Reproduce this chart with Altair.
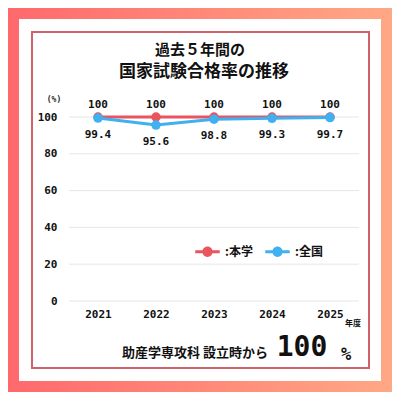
import altair as alt
import pandas as pd

years = ["2021", "2022", "2023", "2024", "2025"]
school = [100, 100, 100, 100, 100]
national = [99.4, 95.6, 98.8, 99.3, 99.7]
series_names = ["本学", "全国"]
series_colors = ["#e9545d", "#3fb0f0"]
y_ticks = [0, 20, 40, 60, 80, 100]
title_line1 = "過去５年間の"
title_line2 = "国家試験合格率の推移"
unit_text = "(%)"
year_unit = "年度"
footer_text = "助産学専攻科 設立時から"
footer_value = "100"
footer_pct = "%"

CJK = "Noto Sans CJK JP"
DIG = "DejaVu Sans Mono"

df = pd.DataFrame({
    "year": years * 2,
    "rate": school + national,
    "series": [series_names[0]] * len(years) + [series_names[1]] * len(years),
})
ticks_df = pd.DataFrame({"rate": y_ticks})
one = pd.DataFrame({"a": [0]})

color_scale = alt.Scale(domain=series_names, range=series_colors)
legend = alt.Legend(
    title=None, orient="none", direction="horizontal",
    legendX=126, legendY=122, padding=0,
    symbolType="M-1,-0.12L1,-0.12L1,0.12L-1,0.12Z M0.42,0A0.42,0.42 0 1,1 -0.42,0A0.42,0.42 0 1,1 0.42,0Z",
    symbolSize=600, symbolStrokeWidth=0, symbolOpacity=1,
    labelFont=CJK, labelFontSize=12, labelFontWeight="bold", labelColor="#111",
    labelExpr="':' + datum.label", labelOffset=5, columnPadding=12,
    zindex=1,
)
color_leg = alt.Color("series:N", scale=color_scale, sort=series_names, legend=legend)

x = alt.X("year:N", scale=alt.Scale(type="point", padding=0.5),
          axis=alt.Axis(title=None, labelAngle=0, ticks=False, domain=False, grid=False,
                        labelFont=DIG, labelFontSize=11, labelFontWeight="bold",
                        labelColor="#111", labelPadding=7, zindex=1, labelOverlap=False))
y = alt.Y("rate:Q", scale=alt.Scale(domain=[0, 100], nice=False),
          axis=alt.Axis(title=None, values=y_ticks, ticks=False, domain=False, grid=False,
                        labelFont=DIG, labelFontSize=11, labelFontWeight="bold",
                        labelColor="#111", labelPadding=12, zindex=1, labelOverlap=False,
                        labelFlush=False, labelBound=False))

bg = alt.Chart(one).mark_rect(
    fill=alt.Gradient(gradient="linear",
                      stops=[alt.GradientStop(color="#ff696c", offset=0),
                             alt.GradientStop(color="#ffa885", offset=1)],
                      x1=0, x2=1, y1=0, y2=0)
).encode(x=alt.value(-61), x2=alt.value(323), y=alt.value(-109), y2=alt.value(275))

card = alt.Chart(one).mark_rect(fill="white").encode(
    x=alt.value(-50), x2=alt.value(312), y=alt.value(-98), y2=alt.value(264))

border = alt.Chart(one).mark_rect(fillOpacity=0, stroke="#cf6269", strokeWidth=2).encode(
    x=alt.value(-37), x2=alt.value(300), y=alt.value(-85), y2=alt.value(251))

title1 = alt.Chart(one).mark_text(
    font=CJK, fontSize=15, fontWeight="bold", color="#111", align="center", baseline="middle"
).encode(x=alt.value(131), y=alt.value(-67), text=alt.value(title_line1))
title2 = alt.Chart(one).mark_text(
    font=CJK, fontSize=17, fontWeight="bold", color="#111", align="center", baseline="middle"
).encode(x=alt.value(135), y=alt.value(-45), text=alt.value(title_line2))

unit = alt.Chart(one).mark_text(font=DIG, fontSize=8, fontWeight="bold", color="#222",
                                align="center", baseline="middle").encode(
    x=alt.value(-15), y=alt.value(-17), text=alt.value(unit_text))

rules = alt.Chart(ticks_df).mark_rule(color="#e6e6e6", strokeWidth=1).encode(y=y)

base = alt.Chart(df)
lines = []
for name, col in zip(series_names, series_colors):
    sub = base.transform_filter(alt.datum.series == name)
    lines.append(sub.mark_line(strokeWidth=3, color=col).encode(x=x, y=y))
    lines.append(sub.mark_point(filled=True, size=90, opacity=1).encode(x=x, y=y, color=color_leg))

lab_top = base.transform_filter(alt.datum.series == series_names[0]).mark_text(
    font=DIG, fontSize=11, fontWeight="bold", color="#111", dy=-12, baseline="middle"
).encode(x=x, y=y, text=alt.Text("rate:Q", format=".1~f"))
lab_bot = base.transform_filter(alt.datum.series == series_names[1]).mark_text(
    font=DIG, fontSize=11, fontWeight="bold", color="#111", dy=17, baseline="middle"
).encode(x=x, y=y, text=alt.Text("rate:Q", format=".1~f"))

yu = alt.Chart(one).mark_text(font=CJK, fontSize=8, fontWeight="bold", color="#111",
                              align="center", baseline="middle").encode(
    x=alt.value(284), y=alt.value(207), text=alt.value(year_unit))
foot1 = alt.Chart(one).mark_text(font=CJK, fontSize=13, fontWeight="bold", color="#111",
                                 align="right", baseline="middle").encode(
    x=alt.value(199), y=alt.value(236), text=alt.value(footer_text))
foot2 = alt.Chart(one).mark_text(font=DIG, fontSize=28, fontWeight="bold", color="#111",
                                 align="center", baseline="middle").encode(
    x=alt.value(233), y=alt.value(231), text=alt.value(footer_value))
foot3 = alt.Chart(one).mark_text(font=DIG, fontSize=17, fontWeight="bold", color="#111",
                                 align="center", baseline="middle").encode(
    x=alt.value(277), y=alt.value(238), text=alt.value(footer_pct))

chart = alt.layer(
    bg, card, border, title1, title2, unit, rules, *lines, lab_top, lab_bot,
    yu, foot1, foot2, foot3
).properties(
    width=290, height=184,
    padding={"left": 61, "top": 109, "right": 33, "bottom": 91},
    autosize=alt.AutoSizeParams(type="none"),
).configure_view(strokeWidth=0).configure_axis(labelOverlap=False)

chart.save("out.html", embed_options={"renderer": "svg", "actions": False})
